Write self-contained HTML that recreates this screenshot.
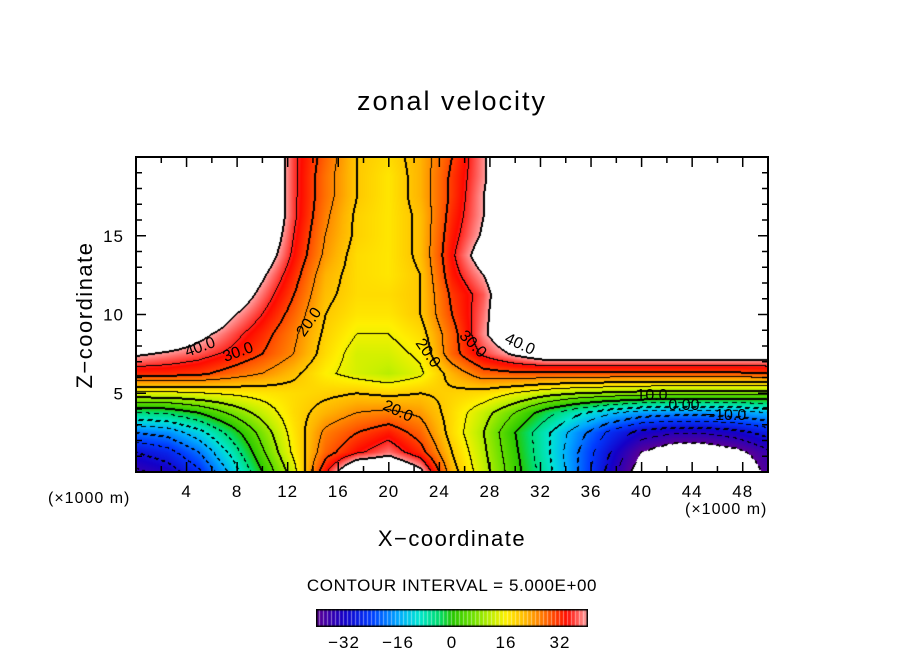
<!DOCTYPE html>
<html><head><meta charset="utf-8"><style>
body{margin:0;background:#fff;}
#wrap{position:relative;width:904px;height:654px;font-family:"Liberation Sans",sans-serif;color:#000;overflow:hidden;}
.t{position:absolute;white-space:nowrap;}
canvas{position:absolute;}
</style></head><body>
<div id="wrap">
<div class="t" style="left:0;width:904px;text-align:center;top:86px;font-size:27px;letter-spacing:2px;">zonal velocity</div>
<canvas id="field" width="632" height="315" style="left:136px;top:157px;"></canvas>
<svg id="axes" width="904" height="654" style="position:absolute;left:0;top:0;"></svg>
<div class="t" style="left:85px;top:315px;font-size:22px;letter-spacing:1.5px;transform:translate(-50%,-50%) rotate(-90deg);">Z−coordinate</div>
<div class="t" style="left:0;width:904px;text-align:center;top:526px;font-size:22px;letter-spacing:1.5px;">X−coordinate</div>
<div class="t" style="left:48px;top:490px;font-size:16px;letter-spacing:1px;">(×1000 m)</div>
<div class="t" style="left:685px;top:501px;font-size:16px;letter-spacing:1px;">(×1000 m)</div>
<div class="t" style="left:0;width:904px;text-align:center;top:576px;font-size:17px;letter-spacing:0.6px;">CONTOUR INTERVAL = 5.000E+00</div>
<canvas id="cbar" width="272" height="18" style="left:316px;top:609px;"></canvas>
</div>
<script>
const xs=[0,2.5,5,7.5,10,12.5,15,17.5,20,22.5,25,27.5,30,32.5,35,37.5,40,42.5,45,47.5,50];
const zs=[0,1.25,2.5,3.75,5,6.25,7.5,8.75,10,11.25,12.5,13.75,15,16.25,17.5,18.75,20];
const row0=[-36,-33,-26,-14,0,13,34,50,50,42,22,12,2,-8,-20,-32,-44,-50,-50,-48,-38];
const row1=[-30,-27,-20,-9,4,16,28,34,38,32,20,11,1,-9,-20,-30,-40,-45,-45,-42,-36];
const row2=[-20,-18,-12,-3,7,17,26,30,33,28,18,10,0,-9,-18,-26,-32,-34,-34,-32,-28];
const row3=[-5,-4,0,6,12,18,22,25,26,24,18,12,5,-3,-9,-14,-17,-18,-18,-17,-15];
const row4=[14,14,15,16,17,18,19,20,19,20,19,18,15,12,10,9,8,7,7,7,7];
const row5=[32,32,31,28,25,21,16,13,11,14,22,28,29,29,29,29,29,29,29,29,30];
const row6=[41,39,37,34,30,25,18,13,13,16,28,36,41,45,45,45,45,45,45,45,44];
const row7=[50,48,42,37,32,26,19,15,15,18,28,39,47,50,50,50,50,50,50,50,50];
const row8=[50,50,50,41,35,28,20,17,17,20,30,38,50,50,50,50,50,50,50,50,50];
const row9=[50,50,50,46,38,30,21,18,18,20,31,37,50,50,50,50,50,50,50,50,50];
const row10=[50,50,50,50,41,32,22,18,17,20,33,40,50,50,50,50,50,50,50,50,50];
const row11=[50,50,50,50,45,34,24,18,17,21,34,44,50,50,50,50,50,50,50,50,50];
const row12=[50,50,50,50,48,35,25,19,17,21,33,41,50,50,50,50,50,50,50,50,50];
const row13=[50,50,50,50,50,36,26,19,17,21,32,40,50,50,50,50,50,50,50,50,50];
const row14=[50,50,50,50,50,36,27,20,17,22,31,40,50,50,50,50,50,50,50,50,50];
const row15=[50,50,50,50,50,36,27,20,17,22,31,39,50,50,50,50,50,50,50,50,50];
const row16=[50,50,50,50,50,36,28,20,18,22,30,39,50,50,50,50,50,50,50,50,50];
const rows=[row0,row1,row2,row3,row4,row5,row6,row7,row8,row9,row10,row11,row12,row13,row14,row15,row16];
const xTicks=[4,8,12,16,20,24,28,32,36,40,44,48];
const zTicks=[5,10,15];
const cbTicks=[-32,-16,0,16,32];

const X0=136,X1=768,Y0=157,Y1=472,XMAX=50,ZMAX=20;
const sx=x=>X0+x/XMAX*(X1-X0);
const sz=z=>Y1-z/ZMAX*(Y1-Y0);
const stops=[[-40,[90,0,150]],[-32,[20,0,200]],[-24,[0,60,255]],[-16,[0,170,255]],[-10,[0,230,210]],[-4,[0,220,110]],[0,[40,200,0]],[6,[110,225,0]],[12,[200,240,0]],[16,[255,240,0]],[22,[255,180,0]],[28,[255,100,0]],[34,[255,10,0]],[40,[255,165,165]]];
function col(v){
  if(v<=stops[0][0])return stops[0][1];
  for(let i=1;i<stops.length;i++){if(v<=stops[i][0]){const a=stops[i-1],b=stops[i],t=(v-a[0])/(b[0]-a[0]);return a[1].map((c,k)=>Math.round(c+(b[1][k]-c)*t));}}
  return stops[stops.length-1][1];
}
function val(x,z){
  let i=Math.min(xs.length-2,Math.max(0,Math.floor(x/2.5))),j=Math.min(zs.length-2,Math.max(0,Math.floor(z/1.25)));
  const tx=(x-xs[i])/(xs[i+1]-xs[i]),tz=(z-zs[j])/(zs[j+1]-zs[j]);
  const a=rows[j][i],b=rows[j][i+1],c=rows[j+1][i],d=rows[j+1][i+1];
  return (a*(1-tx)+b*tx)*(1-tz)+(c*(1-tx)+d*tx)*tz;
}
(function(){
  const cv=document.getElementById('field'),ctx=cv.getContext('2d');
  const W=cv.width,H=cv.height,img=ctx.createImageData(W,H),F=new Float32Array(W*H);
  for(let py=0;py<H;py++)for(let px=0;px<W;px++){
    F[py*W+px]=val((px+0.5)/W*XMAX,(H-py-0.5)/H*ZMAX);
  }
  const lb=v=>Math.floor(v/5);
  for(let py=0;py<H;py++)for(let px=0;px<W;px++){
    const v=F[py*W+px],k=(py*W+px)*4;let c;
    if(v>40||v<-40)c=[255,255,255];else c=col(v);
    const b=lb(v);
    let lv=null;
    // thin: crossing with right/down neighbour
    for(const[dx,dy]of[[1,0],[0,1]]){const qx=px+dx,qy=py+dy;if(qx>=W||qy>=H)continue;
      const b2=lb(F[qy*W+qx]);if(b2!==b){lv=Math.max(b,b2);}}
    // thick: even levels also from left/up neighbour
    if(lv===null){for(const[dx,dy]of[[1,0],[0,1]]){const qx=px-dx,qy=py-dy;if(qx<0||qy<0)continue;
      const b0=lb(F[qy*W+qx]);if(b0!==b){const l=Math.max(b0,b);if(l%2===0)lv=l;}}}
    if(lv!==null){const level=lv*5;
      if(Math.abs(level)<=40){
        if(level<0&&((px+py)%9)<4){}else c=[0,0,0];}
    }
    img.data[k]=c[0];img.data[k+1]=c[1];img.data[k+2]=c[2];img.data[k+3]=255;
  }
  ctx.putImageData(img,0,0);
})();
(function(){
  const cv=document.getElementById('cbar'),ctx=cv.getContext('2d');
  for(let px=0;px<272;px++){const v=-40.3+px/272*80.6;const c=col(v);
    ctx.fillStyle=`rgb(${c[0]},${c[1]},${c[2]})`;ctx.fillRect(px,0,1,18);
    if(px%4===3){ctx.fillStyle='rgba(255,255,255,0.45)';ctx.fillRect(px,0,1,18);}}
  ctx.strokeStyle='#000';ctx.lineWidth=3;ctx.strokeRect(0,0,272,18);
})();
(function(){
  const svg=document.getElementById('axes'),NS='http://www.w3.org/2000/svg';
  function el(t,a){const e=document.createElementNS(NS,t);for(const k in a)e.setAttribute(k,a[k]);svg.appendChild(e);return e;}
  const fr=el('rect',{x:X0,y:Y0,width:X1-X0,height:Y1-Y0,fill:'none',stroke:'#000','stroke-width':2});
  
  
  for(let x=2;x<XMAX;x+=2){const L=(x%4===0)?10:6;
    const t1=el('line',{x1:sx(x),x2:sx(x),y1:Y0,y2:Y0+L,stroke:'#000','stroke-width':1.5});
    
    
    const t2=el('line',{x1:sx(x),x2:sx(x),y1:Y1,y2:Y1-L,stroke:'#000','stroke-width':1.5});
    
    }
  for(let z=1;z<ZMAX;z++){const L=(z%5===0)?10:6;
    const t1=el('line',{x1:X0,x2:X0+L,y1:sz(z),y2:sz(z),stroke:'#000','stroke-width':1.5});
    
    
    const t2=el('line',{x1:X1,x2:X1-L,y1:sz(z),y2:sz(z),stroke:'#000','stroke-width':1.5});
    
    }
  const ff='Liberation Sans, sans-serif';
  xTicks.forEach(x=>{const t=el('text',{x:sx(x),y:497,'text-anchor':'middle','font-size':17,'letter-spacing':1,'font-family':ff});t.textContent=x;
    
    });
  zTicks.forEach(z=>{const t=el('text',{x:124,y:sz(z)+6,'text-anchor':'end','font-size':17,'letter-spacing':1,'font-family':ff});t.textContent=z;
    
    });
  cbTicks.forEach(v=>{const t=el('text',{x:452+v*3.375,y:648,'text-anchor':'middle','font-size':17,'letter-spacing':1,'font-family':ff});t.textContent=(v<0?'−':'')+Math.abs(v);
    
    });
  const labels=[['40.0',200,352,-20],['30.0',238,357,-20],['20.0',309,327,-55],['20.0',428,358,55],['20.0',398,416,25],['30.0',473,349,45],['40.0',520,349,25],['10.0',652,400,0],['0.00',684,410,0],['−10.0',726,420,0]];
  labels.forEach(l=>{const t=el('text',{x:l[1],y:l[2],'text-anchor':'middle','font-size':16,'font-family':ff,transform:`rotate(${l[3]} ${l[1]} ${l[2]-5})`});t.textContent=l[0];
    
    });
})();
</script>
</body></html>
